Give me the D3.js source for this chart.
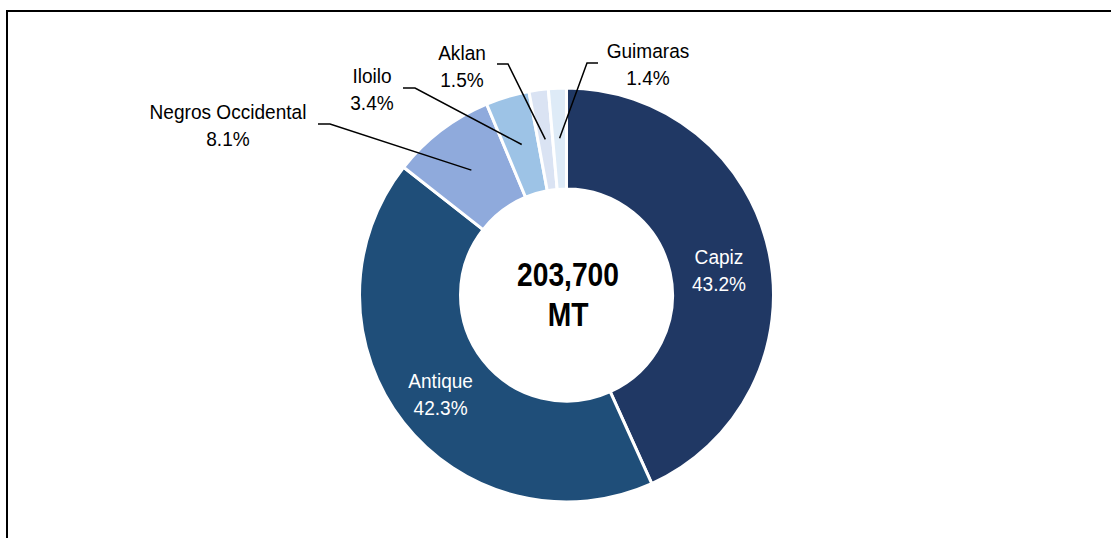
<!DOCTYPE html>
<html>
<head>
<meta charset="utf-8">
<script src="https://cdn.jsdelivr.net/npm/d3@7"></script>
<style>
    body { margin: 0; background: #fff; }
    svg { display: block; }
</style>
</head>
<body>
<script>
// data
const provinces = ["Capiz", "Antique", "Negros Occidental", "Iloilo", "Aklan", "Guimaras"];
const shares = [43.2, 42.3, 8.1, 3.4, 1.5, 1.4];
const colors = ["#203864", "#1f4e79", "#8faadc", "#9dc3e6", "#dae3f3", "#deebf7"];
const totalLines = ["203,700", "MT"];

let wSvg = 1111;
let hSvg = 538;
let cx = 566.5;
let cy = 295;
let rOuter = 207;
let rInner = 106;
let labelFont = "'Liberation Sans', Arial, sans-serif";
let labelSize = 20.5;

// where the text of each label sits (inside ones use the arc centroid)
const inside = { "Capiz": { r: 156, dy: 8 }, "Antique": { r: 160, dy: 0 } };
const outside = {
    "Negros Occidental": { tx: 228, ty: 119, elbow: [[318, 124], [330, 124]] },
    "Iloilo": { tx: 372, ty: 83, elbow: [[403, 88], [415, 88]] },
    "Aklan": { tx: 462, ty: 60, elbow: [[497, 64], [508, 64]] },
    "Guimaras": { tx: 648, ty: 58, elbow: [[598, 63], [587, 63]] }
};

const table = provinces.map((p, i) => ({ name: p, value: shares[i], color: colors[i] }));

// the original font is narrower than anything installed, so squeeze it
function squeeze(sel, k) {
    sel.selectAll("tspan").each(function () {
        let w = this.getComputedTextLength();
        d3.select(this).attr("textLength", w * k).attr("lengthAdjust", "spacingAndGlyphs");
    });
}

let svg = d3.select("body").append("svg")
    .attr("width", wSvg)
    .attr("height", hSvg);

// frame, only top and left edges show
svg.append("path")
    .attr("d", `M7,${hSvg} V11 H${wSvg}`)
    .attr("fill", "none")
    .attr("stroke", "#000")
    .attr("stroke-width", 2);

const pie = d3.pie().sort(null).value((d) => d.value);
const arc = d3.arc().innerRadius(rInner).outerRadius(rOuter);
const arcs = pie(table);

let g = svg.append("g").attr("transform", `translate(${cx},${cy})`);

g.selectAll("path.slice")
    .data(arcs)
    .enter()
    .append("path")
    .attr("class", "slice")
    .attr("d", arc)
    .attr("fill", (d) => d.data.color)
    .attr("stroke", "#fff")
    .attr("stroke-width", 3);

// labels inside the big slices
arcs.filter((d) => inside[d.data.name]).forEach((d) => {
    let o = inside[d.data.name];
    let c = d3.arc().innerRadius(o.r).outerRadius(o.r).centroid(d);
    let t = g.append("text")
        .attr("text-anchor", "middle")
        .attr("font-family", labelFont)
        .attr("font-size", labelSize)
        .attr("fill", "#fff");
    t.append("tspan").attr("x", c[0]).attr("y", c[1] + o.dy - 6).text(d.data.name);
    t.append("tspan").attr("x", c[0]).attr("y", c[1] + o.dy + 21).text(d.data.value.toFixed(1) + "%");
    squeeze(t, 0.93);
});

// labels with leader lines for the small slices
let pointArc = d3.arc().innerRadius(157).outerRadius(157);
arcs.filter((d) => outside[d.data.name]).forEach((d) => {
    let o = outside[d.data.name];
    let c = pointArc.centroid(d);
    let pts = o.elbow.map((p) => [p[0] - cx, p[1] - cy]);
    pts.push(c);
    g.append("path")
        .attr("d", d3.line()(pts))
        .attr("fill", "none")
        .attr("stroke", "#000")
        .attr("stroke-width", 1.5);
    let t = svg.append("text")
        .attr("text-anchor", "middle")
        .attr("font-family", labelFont)
        .attr("font-size", labelSize)
        .attr("fill", "#000");
    t.append("tspan").attr("x", o.tx).attr("y", o.ty).text(d.data.name);
    t.append("tspan").attr("x", o.tx).attr("y", o.ty + 27).text(d.data.value.toFixed(1) + "%");
    squeeze(t, 0.93);
});

// total in the hole
let center = svg.append("text")
    .attr("text-anchor", "middle")
    .attr("font-family", "'Liberation Sans', Arial, sans-serif")
    .attr("font-weight", "bold")
    .attr("font-size", 34)
    .attr("fill", "#000");
center.append("tspan").attr("x", 568).attr("y", 286).text(totalLines[0]);
center.append("tspan").attr("x", 568).attr("y", 326).text(totalLines[1]);
squeeze(center, 0.83);
</script>
</body>
</html>
